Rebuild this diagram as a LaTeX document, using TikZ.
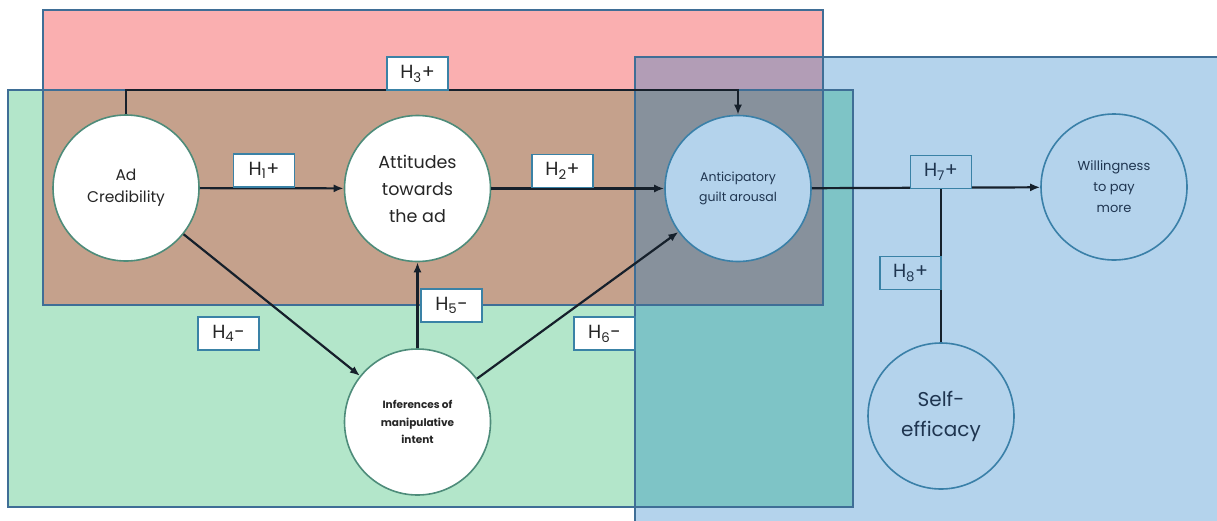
\documentclass[tikz,border=0pt]{standalone}
\usepackage{fontspec}
\setmainfont{Poppins}
\usetikzlibrary{arrows.meta}
\definecolor{redfill}{HTML}{FAAFB0}
\definecolor{greenfill}{HTML}{B3E6CA}
\definecolor{bluefill}{HTML}{B4D3EC}
\definecolor{brownfill}{HTML}{C5A18C}
\definecolor{purplefill}{HTML}{B29DB6}
\definecolor{grayfill}{HTML}{87919C}
\definecolor{tealfill}{HTML}{7EC4C6}
\definecolor{frame}{HTML}{3F6E96}
\definecolor{wring}{HTML}{4E8C7A}
\definecolor{bring}{HTML}{3A80A8}
\definecolor{ink}{HTML}{16202B}
\definecolor{navytext}{HTML}{1F3550}
\definecolor{hborder}{HTML}{3A82A6}
\tikzset{
  wcirc/.style={circle, draw=wring, line width=1.6pt, fill=white, minimum size=146pt, inner sep=0pt, align=center, text=black!85},
  bcirc/.style={circle, draw=bring, line width=1.6pt, fill=bluefill, minimum size=146pt, inner sep=0pt, align=center, text=navytext},
  hbox/.style={draw=hborder, line width=1.4pt, fill=white, minimum width=61pt, minimum height=33pt, inner sep=0pt, font=\fontsize{19}{22}\selectfont, text=black!85},
  hboxb/.style={hbox, fill=bluefill, text=navytext},
  conn/.style={draw=ink, line width=2.2pt, -{Latex[length=10pt,width=8pt]}},
  plain/.style={draw=ink, line width=2.2pt},
  region/.style={draw=frame, line width=1.3pt}
}
\begin{document}
\begin{tikzpicture}[x=1pt,y=-1pt]
\useasboundingbox (0,0) rectangle (1217,520);
\clip (0,0) rectangle (1217,520);
% coloured areas and their overlaps
\fill[redfill] (43,10) rectangle (823,305);
\fill[greenfill] (8,90) rectangle (853,507);
\fill[bluefill] (635,57) rectangle (1230,530);
\fill[brownfill] (43,90) rectangle (823,305);
\fill[purplefill] (635,57) rectangle (823,90);
\fill[tealfill] (635,90) rectangle (853,507);
\fill[grayfill] (635,90) rectangle (823,305);
% area outlines
\draw[region] (43,10) rectangle (823,305);
\draw[region] (8,90) rectangle (853,507);
\draw[region] (635,57) rectangle (1230,530);

% constructs
\node[wcirc, font=\fontsize{15.5}{22}\selectfont] (ad) at (126,188) {Ad\\Credibility};
\node[wcirc, font=\fontsize{17.5}{27}\selectfont] (att) at (417.5,188.5) {Attitudes\\towards\\the ad};
\node[bcirc, font=\fontsize{12.5}{19.5}\selectfont] (ant) at (738,188.5) {Anticipatory\\guilt arousal};
\node[bcirc, font=\fontsize{13}{21}\selectfont] (will) at (1114,187) {Willingness\\to pay\\more};
\node[wcirc, font=\bfseries\fontsize{10.5}{17.5}\selectfont] (inf) at (417.5,422) {Inferences of\\manipulative\\intent};
\node[bcirc, font=\fontsize{20}{30}\selectfont] (self) at (941,416) {Self-\\efficacy};

% paths
\coordinate (topline) at (0,90);
\draw[conn] (ad.north) -- (ad.north |- topline) -| (ant.north);
\draw[conn] (ad) -- (att);
\draw[conn] (att) -- (ant);
\draw[conn] (ant) -- (will);
\draw[conn] (ad) -- (inf);
\draw[conn] (inf) -- (att);
\draw[conn] (inf) -- (ant);
\draw[plain] (self.north) -- (self.north |- ant.east);

% hypothesis labels
\node[hbox] (h3) at (417.5,73.5) {H\textsubscript{3}+};
\node[hbox] (h1) at (264,170.5) {H\textsubscript{1}+};
\node[hbox] (h2) at (562.5,171) {H\textsubscript{2}+};
\node[hboxb] (h7) at (941,172) {H\textsubscript{7}+};
\node[hboxb] (h8) at (910.5,273) {H\textsubscript{8}+};
\node[hbox] (h4) at (228.5,333.5) {H\textsubscript{4}-};
\node[hbox] (h5) at (451.5,305.5) {H\textsubscript{5}-};
\node[hbox] (h6) at (604.5,333.5) {H\textsubscript{6}-};
\end{tikzpicture}
\end{document}
